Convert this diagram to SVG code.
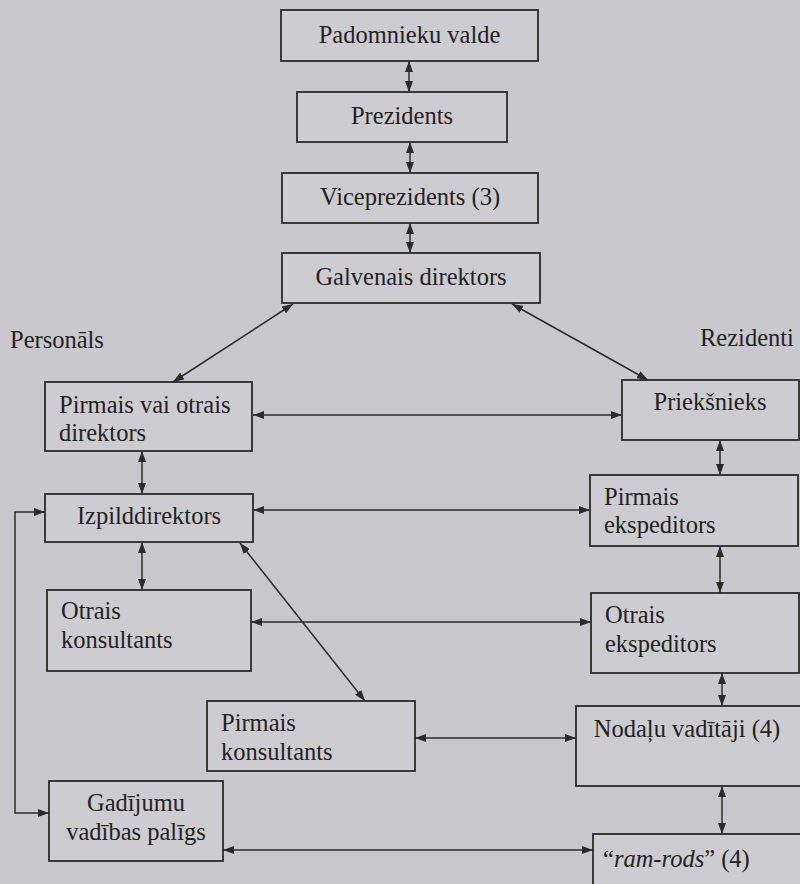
<svg xmlns="http://www.w3.org/2000/svg" width="800" height="884" viewBox="0 0 800 884">
<defs>
<marker id="ah" viewBox="0 0 11 8" refX="11" refY="4" markerWidth="11" markerHeight="8" markerUnits="userSpaceOnUse" orient="auto-start-reverse">
<path d="M0,0 L11,4 L0,8 z" fill="#2b2b2b"/>
</marker>
<style>
.bx{fill:#cdcdd1;stroke:#2b2b2b;stroke-width:1.8}
.t{font-family:"Liberation Serif","Times New Roman",serif;font-size:24.5px;fill:#222}
.c{text-anchor:middle}
.ln{fill:none;stroke:#2b2b2b;stroke-width:1.5;marker-start:url(#ah);marker-end:url(#ah)}
</style>
</defs>
<rect x="0" y="0" width="800" height="884" fill="#c9c9cd"/>
<text class="t" x="10" y="348">Personāls</text>
<text class="t" x="700" y="346">Rezidenti</text>

<g id="padomnieku"><rect class="bx" x="281" y="10" width="257" height="51"/><text class="t c" x="409.5" y="43">Padomnieku valde</text></g>
<g id="prezidents"><rect class="bx" x="297" y="92" width="210" height="50"/><text class="t c" x="402" y="124">Prezidents</text></g>
<g id="viceprezidents"><rect class="bx" x="282" y="173" width="256" height="50"/><text class="t c" x="410" y="205">Viceprezidents (3)</text></g>
<g id="galvenais"><rect class="bx" x="282" y="253" width="258" height="50"/><text class="t c" x="411" y="285">Galvenais direktors</text></g>
<g id="pirmais-otrais-dir"><rect class="bx" x="45" y="382" width="207" height="69"/><text class="t" x="59" y="413">Pirmais vai otrais</text><text class="t" x="59" y="441">direktors</text></g>
<g id="izpilddirektors"><rect class="bx" x="45" y="494" width="208" height="48"/><text class="t c" x="149" y="524">Izpilddirektors</text></g>
<g id="otrais-konsultants"><rect class="bx" x="47" y="590" width="204" height="81"/><text class="t" x="61" y="619">Otrais</text><text class="t" x="61" y="648">konsultants</text></g>
<g id="pirmais-konsultants"><rect class="bx" x="207" y="701" width="208" height="70"/><text class="t" x="221" y="731">Pirmais</text><text class="t" x="221" y="760">konsultants</text></g>
<g id="gadijumu"><rect class="bx" x="49" y="781" width="174" height="80"/><text class="t c" x="136" y="811">Gadījumu</text><text class="t c" x="136" y="840">vadības palīgs</text></g>
<g id="prieksnieks"><rect class="bx" x="622" y="380" width="177" height="60"/><text class="t c" x="710" y="410">Priekšnieks</text></g>
<g id="pirmais-eksp"><rect class="bx" x="590" y="475" width="208" height="71"/><text class="t" x="604" y="505">Pirmais</text><text class="t" x="604" y="533">ekspeditors</text></g>
<g id="otrais-eksp"><rect class="bx" x="591" y="593" width="208" height="80"/><text class="t" x="605" y="623">Otrais</text><text class="t" x="605" y="652">ekspeditors</text></g>
<g id="nodalu"><rect class="bx" x="576" y="706" width="230" height="80"/><text class="t c" x="687" y="737">Nodaļu vadītāji (4)</text></g>
<g id="ramrods"><rect class="bx" x="593" y="834" width="215" height="70"/><text class="t" x="603" y="867">“<tspan font-style="italic">ram-rods</tspan>” (4)</text></g>

<g id="connectors">
<line class="ln" x1="409" y1="61" x2="409" y2="92"/>
<line class="ln" x1="410" y1="142" x2="410" y2="173"/>
<line class="ln" x1="410" y1="223" x2="410" y2="253"/>
<line class="ln" x1="293" y1="304" x2="173" y2="382"/>
<line class="ln" x1="512" y1="304" x2="648" y2="380"/>
<line class="ln" x1="253" y1="415" x2="622" y2="415"/>
<line class="ln" x1="142" y1="451" x2="142" y2="494"/>
<line class="ln" x1="253" y1="510" x2="590" y2="510"/>
<line class="ln" x1="142" y1="542" x2="142" y2="590"/>
<line class="ln" x1="240" y1="543" x2="365" y2="701"/>
<line class="ln" x1="251" y1="622" x2="591" y2="622"/>
<line class="ln" x1="415" y1="738" x2="576" y2="738"/>
<line class="ln" x1="223" y1="850" x2="593" y2="850"/>
<polyline class="ln" points="49,813 15,813 15,512 45,512"/>
<line class="ln" x1="720" y1="440" x2="720" y2="475"/>
<line class="ln" x1="720" y1="546" x2="720" y2="593"/>
<line class="ln" x1="722" y1="673" x2="722" y2="706"/>
<line class="ln" x1="722" y1="786" x2="722" y2="834"/>
</g>
</svg>
